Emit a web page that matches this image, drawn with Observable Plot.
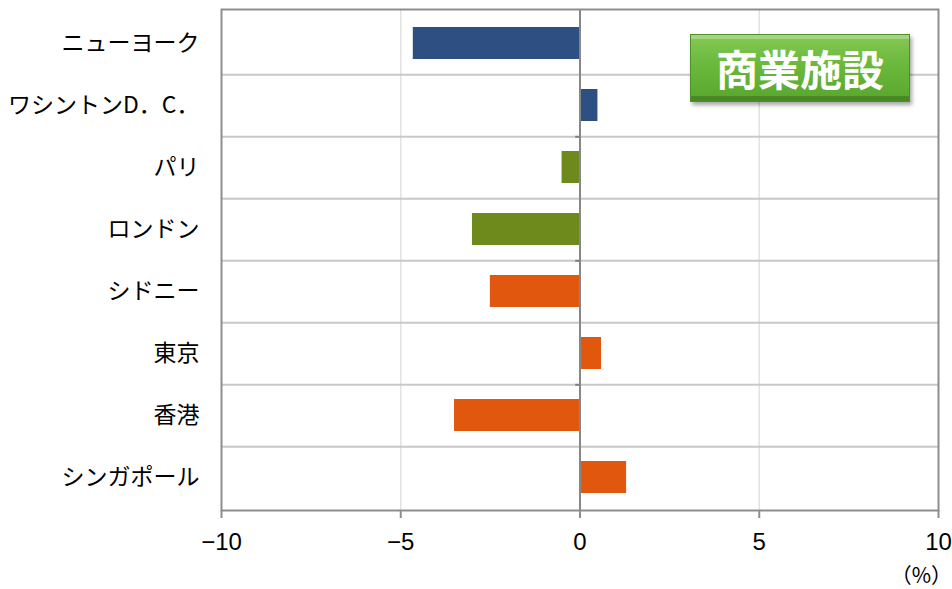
<!DOCTYPE html>
<html><head><meta charset="utf-8">
<script src="https://cdn.jsdelivr.net/npm/d3@7"></script>
<script src="https://cdn.jsdelivr.net/npm/@observablehq/plot@0.6"></script>
<style>
body{margin:0;background:#fff;}
#wrap{position:relative;width:952px;height:589px;overflow:hidden;}
.badge{position:absolute;left:690px;top:34px;width:220px;height:68px;box-sizing:border-box;
  background:linear-gradient(180deg,#86c956 0%,#6ab83c 45%,#58a62c 100%);
  border:1px solid #4e8f28;
  box-shadow:inset 0 -5px 0 rgba(0,0,0,0.18), inset 0 4px 0 rgba(255,255,255,0.25), 2px 3px 4px rgba(0,0,0,0.35);
  color:#fff;font-family:'Noto Sans CJK JP';font-weight:700;font-size:42px;line-height:66px;text-align:center;letter-spacing:0;}
.unit{position:absolute;right:0px;top:562px;font-family:'Noto Sans CJK JP';font-size:21px;line-height:24px;color:#000;}
</style></head><body><div id="wrap"></div>
<script>
const cities = ["ニューヨーク","ワシントンD．C．","パリ","ロンドン","シドニー","東京","香港","シンガポール"];
const values = [-4.65, 0.5, -0.5, -3.0, -2.5, 0.6, -3.5, 1.3];
const regions = ["米国","米国","欧州","欧州","アジア太平洋","アジア太平洋","アジア太平洋","アジア太平洋"];
const regionDomain = ["米国","欧州","アジア太平洋"];
const regionColors = ["#2e4f82","#6f8a1c","#e2570e"];
const xTicks = [-10,-5,0,5,10];
const gridX = [-5,5];
const zeroTickAfter = [cities[1], cities[3], cities[5]];
const badgeText = "商業施設";
const unitText = "（%）";

const data = cities.map((c,i)=>({city:c, value:values[i], region:regions[i]}));
const H = 589, mT = 9, mB = 79;
const step = (H - mT - mB) / cities.length;

const chart = Plot.plot({
  width: 952, height: H,
  marginTop: mT, marginBottom: mB, marginLeft: 221, marginRight: 14,
  style: {fontFamily: "'Noto Sans CJK JP'", background: "#fff", color: "#000"},
  x: {domain: [-10, 10], label: null},
  y: {domain: cities, paddingInner: 0.49, paddingOuter: 0.245, label: null},
  color: {domain: regionDomain, range: regionColors},
  marks: [
    Plot.ruleX(gridX, {stroke: "#e2e2e2", strokeWidth: 1.5}),
    Plot.ruleY(cities.slice(0, -1), {dy: step/2, stroke: "#c8c8c8", strokeWidth: 2}),
    Plot.barX(data, {x: "value", y: "city", fill: "region"}),
    Plot.ruleY(zeroTickAfter, {dy: step/2, x1: -0.12, x2: 0, stroke: "#808080", strokeWidth: 2}),
    Plot.ruleX([0], {stroke: "#878787", strokeWidth: 2}),
    Plot.frame({stroke: "#8e8e8e", strokeWidth: 2}),
    Plot.axisX({ticks: xTicks, tickSize: 8, tickPadding: 14, stroke: "#8e8e8e", strokeWidth: 2, fill: "#000",
      fontSize: 24, fontFamily: "'Liberation Sans'",
      tickFormat: d => d < 0 ? "\u2212" + Math.abs(d) : String(d)}),
    Plot.axisY({tickSize: 0, tickPadding: 22, fontSize: 23, fill: "#000"})
  ]
});
const wrap = document.getElementById("wrap");
wrap.appendChild(chart);
const b = document.createElement("div"); b.className = "badge"; b.textContent = badgeText; wrap.appendChild(b);
const u = document.createElement("div"); u.className = "unit"; u.textContent = unitText; wrap.appendChild(u);
</script>
</body></html>
